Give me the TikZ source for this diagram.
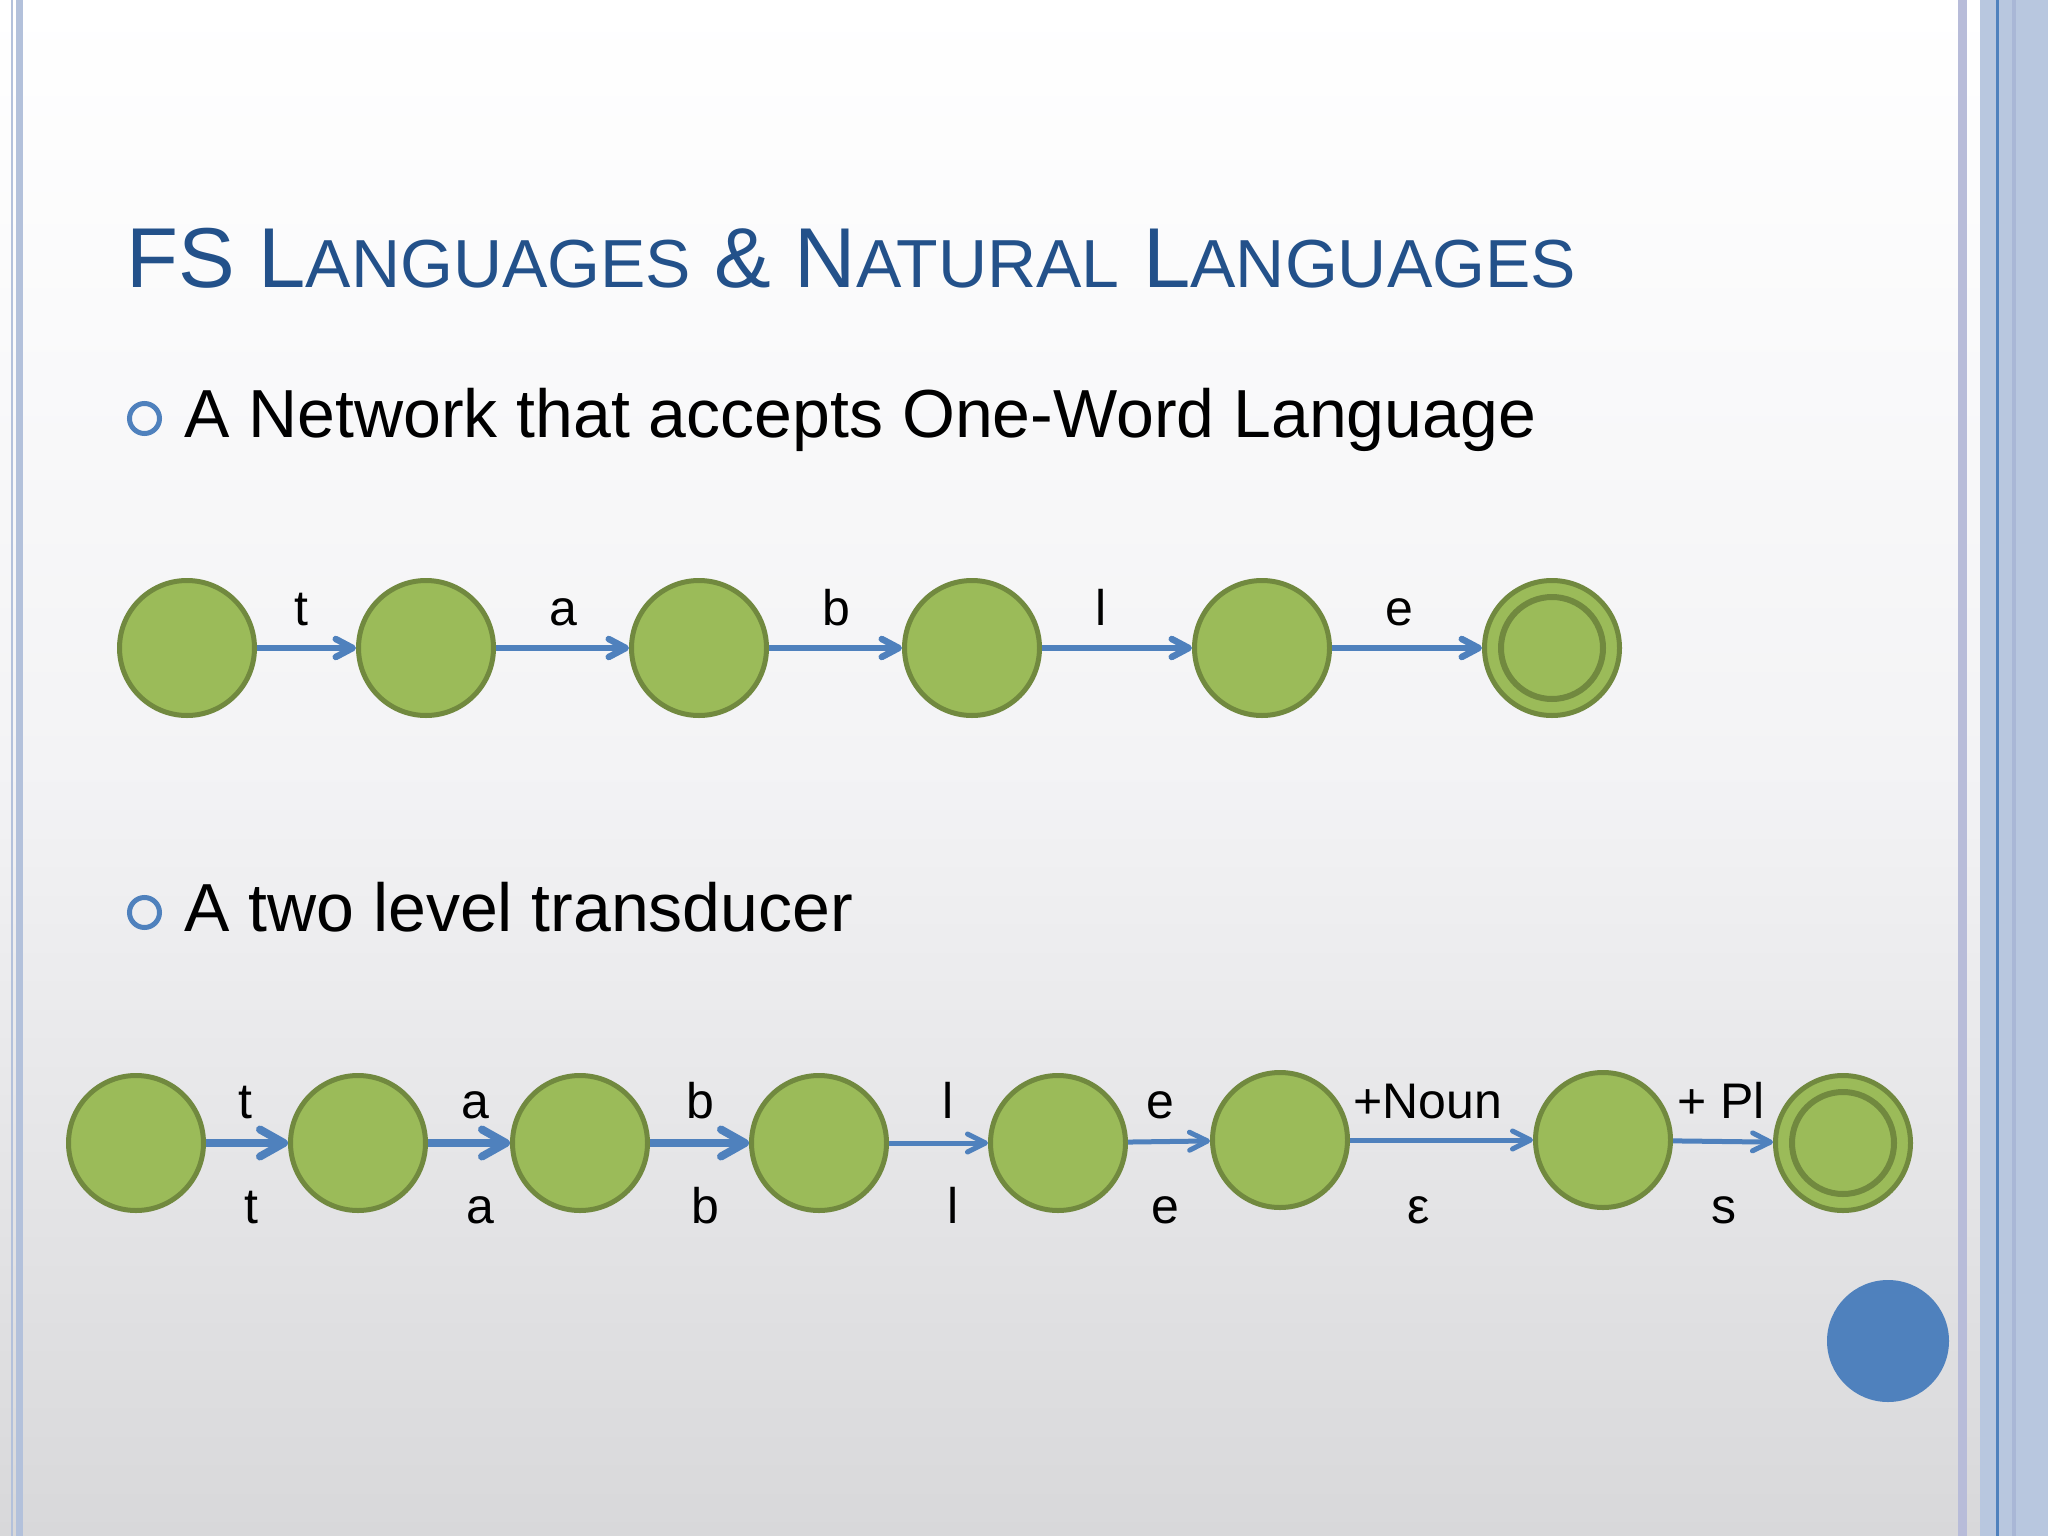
\documentclass[tikz,border=0pt]{standalone}
\usepackage{fontspec}
\setmainfont{Liberation Sans}
\usetikzlibrary{arrows.meta}
\definecolor{stateFill}{HTML}{9BBB59}
\definecolor{stateLine}{HTML}{71893F}
\definecolor{arrowBlue}{HTML}{4F81BD}
\definecolor{titleBlue}{HTML}{23518A}
\definecolor{bgMid}{HTML}{F3F3F5}
\definecolor{bgBot}{HTML}{D8D8DA}
\definecolor{stripeA}{HTML}{B3C1DB}
\definecolor{stripeB}{HTML}{B8BCD9}
\definecolor{sideBlue}{HTML}{B8C7DF}
\definecolor{sideDark}{HTML}{A9B7D6}
\newcommand{\bigC}[1]{{\fontsize{85}{85}\selectfont #1}}
\newcommand{\smallC}[1]{{\fontsize{68}{68}\selectfont #1}}
\begin{document}
\begin{tikzpicture}[x=1pt,y=-1pt,
  state/.style={circle, fill=stateFill, draw=stateLine, line width=5pt, minimum size=135pt, inner sep=0pt},
  ring/.style={draw=stateLine, line width=6pt},
  arrTop/.style={draw=arrowBlue, line width=6.5pt, -{Straight Barb[length=17pt,width=18pt,line cap=round,line join=round]}},
  arrThick/.style={draw=arrowBlue, line width=8pt, -{Straight Barb[length=24pt,width=27pt,line cap=round,line join=round]}},
  arrThin/.style={draw=arrowBlue, line width=5pt, -{Straight Barb[length=18pt,width=18pt,line cap=round,line join=round]}},
  lab/.style={anchor=base, inner sep=0pt, font=\fontsize{50}{50}\selectfont},
  bullet/.style={circle, draw=arrowBlue, line width=5pt, minimum size=30pt, inner sep=0pt},
  btext/.style={anchor=base west, inner sep=0pt, font=\fontsize{68}{80}\selectfont},
]
\useasboundingbox (0,0) rectangle (2048,1536);
% background
\shade[top color=white, bottom color=bgMid] (0,0) rectangle (2048,768);
\shade[top color=bgMid, bottom color=bgBot] (0,767) rectangle (2048,1536);
% left border stripes
\fill[stripeA] (11,0) rectangle (13,1536);
\fill[stripeA] (16,0) rectangle (23,1536);
% right border
\fill[stripeB] (1958,0) rectangle (1967,1536);
\fill[sideBlue] (1980,0) rectangle (2048,1536);
\fill[arrowBlue] (1996,0) rectangle (1999,1536);
\fill[sideDark] (2012,0) rectangle (2016,1536);

% title
\node[anchor=base west, inner sep=0pt, text=titleBlue] (title) at (126,287)
  {\bigC{FS\ L}\smallC{ANGUAGES}\bigC{\ \&\ N}\smallC{ATURAL}\bigC{\ L}\smallC{ANGUAGES}};

% bullets
\node[bullet] (bu1) at (144.5,418.5) {};
\node[btext] (bt1) at (184,437) {A Network that accepts One-Word Language};
\node[bullet] (bu2) at (144.5,912.5) {};
\node[btext] (bt2) at (184,931) {A two level transducer};

% top automaton
\node[state] (a1) at (187,648) {};
\node[state] (a2) at (426,648) {};
\node[state] (a3) at (699,648) {};
\node[state] (a4) at (972,648) {};
\node[state] (a5) at (1262,648) {};
\node[state] (a6) at (1552,648) {};
\draw[ring] (a6.center) circle[radius=51pt];
\draw[arrTop] (a1) -- (a2);
\draw[arrTop] (a2) -- (a3);
\draw[arrTop] (a3) -- (a4);
\draw[arrTop] (a4) -- (a5);
\draw[arrTop] (a5) -- (a6);
\node[lab] (la1) at (301,625) {t};
\node[lab] (la2) at (563,625) {a};
\node[lab] (la3) at (836,625) {b};
\node[lab] (la4) at (1101,625) {l};
\node[lab] (la5) at (1399,625) {e};

% bottom transducer
\node[state] (b1) at (136,1143) {};
\node[state] (b2) at (358,1143) {};
\node[state] (b3) at (580,1143) {};
\node[state] (b4) at (819,1143) {};
\node[state] (b5) at (1058,1143) {};
\node[state] (b6) at (1280,1140) {};
\node[state] (b7) at (1603,1140) {};
\node[state] (b8) at (1843,1143) {};
\draw[ring] (b8.center) circle[radius=51pt];
\draw[arrThick] (b1) -- (b2);
\draw[arrThick] (b2) -- (b3);
\draw[arrThick] (b3) -- (b4);
\draw[arrThin] (b4) -- (b5);
\draw[arrThin] (b5) -- (b6);
\draw[arrThin] (b6) -- (b7);
\draw[arrThin] (b7) -- (b8);
% upper labels
\node[lab] (u1) at (245,1118) {t};
\node[lab] (u2) at (475,1118) {a};
\node[lab] (u3) at (700,1118) {b};
\node[lab] (u4) at (948,1118) {l};
\node[lab] (u5) at (1160,1118) {e};
\node[lab] (u6) at (1428,1118) {+Noun};
\node[lab] (u7) at (1721,1118) {+ Pl};
% lower labels
\node[lab] (d1) at (251,1223) {t};
\node[lab] (d2) at (480,1223) {a};
\node[lab] (d3) at (705,1223) {b};
\node[lab] (d4) at (953,1223) {l};
\node[lab] (d5) at (1165,1223) {e};
\node[lab] (d6) at (1419,1223) {ε};
\node[lab] (d7) at (1724,1223) {s};

% blue dot
\node[circle, fill=arrowBlue, minimum size=122pt, inner sep=0pt] (dot) at (1888,1341) {};
\end{tikzpicture}
\end{document}
